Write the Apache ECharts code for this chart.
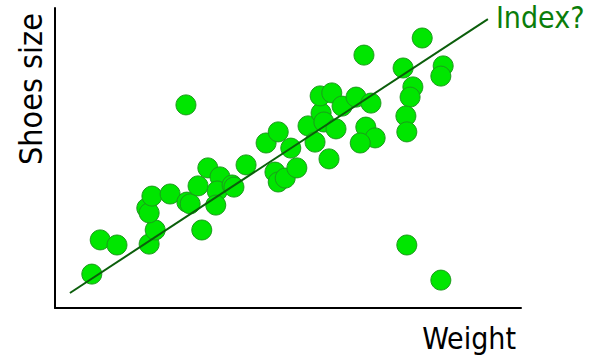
<!DOCTYPE html>
<html>
<head>
<meta charset="utf-8">
<script src="https://cdn.jsdelivr.net/npm/echarts@6/dist/echarts.min.js"></script>
<style>
html,body{margin:0;padding:0;background:#fff;}
#chart{width:590px;height:355px;}
</style>
</head>
<body>
<div id="chart"></div>
<script>
// Weight (x) and shoe size (y), arbitrary units 0-100 (no tick labels in the original)
const weights = [7.9, 9.7, 13.3, 20.2, 21.5, 19.7, 20.2, 20.8, 24.7, 28.1, 28.3, 29.0, 31.5, 30.7, 32.8, 35.4, 34.8, 34.5, 38.0, 38.4, 41.0, 45.3, 47.9, 50.6, 47.2, 47.9, 49.4, 51.9, 54.3, 55.8, 57.1, 57.7, 56.9, 59.4, 60.3, 61.6, 58.8, 64.6, 67.8, 66.3, 66.7, 68.7, 65.5, 74.7, 76.8, 76.2, 75.3, 75.5, 78.8, 83.3, 82.8, 75.5, 82.8];
const shoeSizes = [11.3, 22.7, 21.0, 21.3, 26.0, 33.3, 31.7, 37.3, 38.0, 67.7, 35.3, 34.7, 26.0, 40.7, 46.7, 43.7, 39.0, 34.3, 41.0, 40.3, 47.7, 55.0, 58.7, 53.3, 45.3, 42.0, 43.3, 46.7, 60.7, 55.3, 65.0, 62.0, 70.7, 71.7, 59.7, 67.3, 49.7, 70.3, 68.3, 84.3, 60.3, 56.7, 55.0, 80.0, 73.7, 70.3, 64.0, 58.7, 90.0, 80.7, 77.3, 21.0, 9.3];
const trendX = [3.2, 92.9];
const trendY = [5.0, 96.3];
const trendLabel = 'Index?';
const xTitle = 'Weight';
const yTitle = 'Shoes size';

const points = weights.map((w, i) => [w, shoeSizes[i]]);
const font = '"DejaVu Sans Condensed", "DejaVu Sans", sans-serif';
const trend = trendX.map((x, i) => {
  const item = {value: [x, trendY[i]]};
  if (i === trendX.length - 1) {
    item.label = {
      show: true, position: 'right', formatter: trendLabel, color: '#0a7d0a',
      fontFamily: '"DejaVu Sans Condensed", "DejaVu Sans", sans-serif',
      fontSize: 30, distance: 8, offset: [0, -2]
    };
  }
  return item;
});

const chart = echarts.init(document.getElementById('chart'), null, {renderer: 'svg'});
chart.setOption({
  animation: false,
  backgroundColor: '#ffffff',
  grid: {left: 55, top: 8, right: 69, bottom: 47},
  xAxis: {
    type: 'value', min: 0, max: 100,
    axisLine: {show: true, lineStyle: {color: '#000', width: 2}},
    axisTick: {show: false}, axisLabel: {show: false}, splitLine: {show: false}
  },
  yAxis: {
    type: 'value', min: 0, max: 100,
    axisLine: {show: true, lineStyle: {color: '#000', width: 2}},
    axisTick: {show: false}, axisLabel: {show: false}, splitLine: {show: false}
  },
  series: [
    {
      type: 'scatter',
      data: points,
      symbolSize: 20,
      itemStyle: {color: '#00e600', borderColor: '#1c9a1c', borderWidth: 1, opacity: 1},
      z: 2
    },
    {
      type: 'line',
      data: trend,
      showSymbol: true,
      symbol: 'circle',
      symbolSize: 0,
      lineStyle: {color: '#0b5e0b', width: 2},
      label: {show: false},
      z: 3
    }
  ],
  graphic: [
    {
      type: 'text', x: 516, y: 338,
      style: {text: xTitle, font: '30px ' + font, fill: '#000', textAlign: 'right', textVerticalAlign: 'middle'}
    },
    {
      type: 'text', x: 31, y: 89, rotation: Math.PI / 2,
      style: {text: yTitle, font: '32px ' + font, fill: '#000', textAlign: 'center', textVerticalAlign: 'middle'}
    }
  ]
});
</script>
</body>
</html>
